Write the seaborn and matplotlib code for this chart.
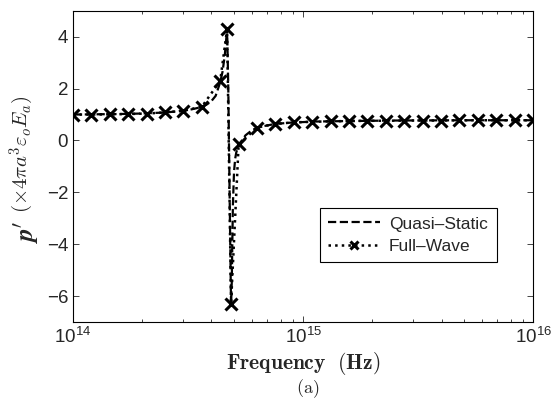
import numpy as np
import matplotlib
matplotlib.use("Agg")
import matplotlib.pyplot as plt
import seaborn as sns

# quasi-static (dashed) curve
freq_qs = [1.000e14, 1.259e14, 1.585e14, 1.995e14, 2.512e14, 2.818e14, 3.162e14,
           3.548e14, 3.802e14, 3.981e14, 4.169e14, 4.365e14, 4.467e14, 4.571e14,
           4.677e14, 4.732e14, 4.786e14, 4.842e14, 4.864e14, 4.898e14, 4.955e14,
           5.012e14, 5.070e14, 5.129e14, 5.248e14, 5.370e14, 5.623e14, 6.026e14,
           6.607e14, 7.586e14, 8.913e14, 1.122e15, 1.585e15, 2.512e15, 5.012e15,
           1.000e16]
p_qs = [1.00, 1.01, 1.02, 1.04, 1.08, 1.12, 1.17,
        1.27, 1.38, 1.50, 1.72, 2.25, 2.65, 3.30,
        4.30, 2.00, -1.50, -5.00, -6.30, -5.50, -2.50,
        -1.20, -0.70, -0.45, -0.20, -0.05, 0.20, 0.41,
        0.54, 0.64, 0.69, 0.73, 0.75, 0.77, 0.78,
        0.78]

# full-wave (dotted + x markers)
freq_fw = [1.000e14, 1.202e14, 1.445e14, 1.738e14, 2.089e14, 2.512e14, 3.020e14,
           3.631e14, 4.365e14, 4.677e14, 4.864e14, 5.248e14, 6.310e14, 7.586e14,
           9.120e14, 1.096e15, 1.318e15, 1.585e15, 1.905e15, 2.291e15, 2.754e15,
           3.311e15, 3.981e15, 4.786e15, 5.754e15, 6.918e15, 8.318e15, 1.000e16]
p_fw = [1.00, 1.00, 1.01, 1.02, 1.04, 1.08, 1.15,
        1.30, 2.30, 4.30, -6.30, -0.15, 0.50, 0.64,
        0.70, 0.72, 0.74, 0.75, 0.76, 0.76, 0.77,
        0.77, 0.77, 0.78, 0.78, 0.78, 0.78, 0.78]

y_ticks = [-6, -4, -2, 0, 2, 4]

sns.set_style("ticks")
plt.rcParams["font.family"] = ["Liberation Sans", "DejaVu Sans"]
plt.rcParams["mathtext.fontset"] = "custom"
plt.rcParams["mathtext.rm"] = "Liberation Sans"
plt.rcParams["mathtext.it"] = "Liberation Sans:italic"
plt.rcParams["mathtext.bf"] = "Liberation Sans:bold"
plt.rcParams["xtick.direction"] = "in"
plt.rcParams["ytick.direction"] = "in"

fig = plt.figure(figsize=(5.53, 4.01), dpi=100)
ax = fig.add_axes([0.132, 0.197, 0.832, 0.776])

sns.lineplot(x=freq_qs, y=p_qs, ax=ax, color="k", linestyle="--", lw=1.6,
             label="Quasi\u2013Static", sort=False)
sns.lineplot(x=freq_fw, y=p_fw, ax=ax, color="k", linestyle=":", lw=1.8,
             marker="x", markersize=8, markeredgewidth=2.2, markeredgecolor="k",
             label="Full\u2013Wave", sort=False)

ax.set_xscale("log")
ax.set_xlim(1e14, 1e16)
ax.set_ylim(-7, 5)
ax.set_yticks(y_ticks)
ax.tick_params(which="both", top=True, right=True, labelsize=13.5, width=0.6)
ax.tick_params(which="major", length=4)
ax.tick_params(which="minor", length=2.5)
for s in ax.spines.values():
    s.set_linewidth(0.8)
    s.set_color("k")

ax.set_xlabel(r"$\mathbf{Frequency\ \ (Hz)}$", fontsize=15.5, math_fontfamily="cm",
              labelpad=2)
ax.set_ylabel("")

fig.text(0.048, 0.42, r"$\mathbfit{p}'$", fontsize=18, math_fontfamily="cm",
         rotation=90, ha="center", va="center")
fig.text(0.040, 0.615, r"$(\times 4\pi a^3\varepsilon_o E_a)$", fontsize=15,
         math_fontfamily="cm", rotation=90, ha="center", va="center")
fig.text(0.557, 0.032, r"$\mathrm{(a)}$", fontsize=13, math_fontfamily="cm",
         ha="center", va="center")

leg = ax.legend(loc="center", bbox_to_anchor=(0.738, 0.414),
                bbox_transform=fig.transFigure, fontsize=12.5, frameon=True,
                fancybox=False, edgecolor="k", framealpha=1, handlelength=3.0,
                borderpad=0.5, labelspacing=0.4, handletextpad=0.5,
                markerscale=0.8)
leg.get_frame().set_linewidth(0.8)

fig.savefig("out.png", dpi=100)
